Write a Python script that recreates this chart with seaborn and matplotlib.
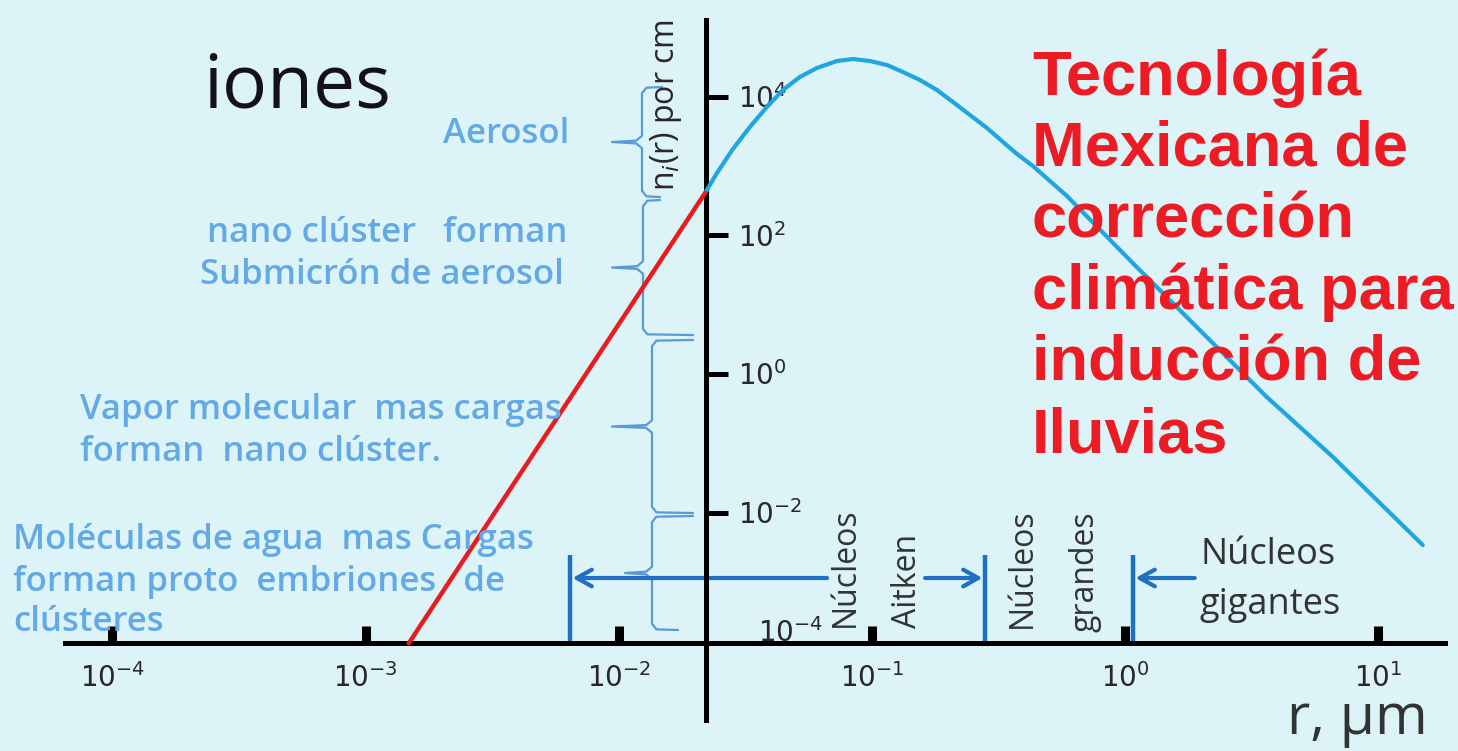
import numpy as np
import matplotlib
matplotlib.use("Agg")
import matplotlib.pyplot as plt
import matplotlib.transforms as mtransforms
from matplotlib.ticker import NullLocator
import seaborn as sns

# ---- data: size distribution n_i(r) (per cm^3) versus radius r (µm) ----
ion_radius = [0.00148, 0.0219]
ion_conc = [1.3e-4, 409]

aerosol_radius = [0.0219, 0.0244, 0.0282, 0.0329, 0.0384, 0.0445, 0.0518, 0.0606,
                  0.0727, 0.0841, 0.0981, 0.1145, 0.1324, 0.1546, 0.1804, 0.2087,
                  0.2435, 0.2843, 0.3289, 0.3735, 0.4318, 0.5042, 0.5885,
                  1.07, 1.97, 3.62, 6.61, 14.96]
aerosol_conc = [409, 795, 1760, 3660, 7130, 12540, 19300, 26050,
                32870, 35090, 32870, 28770, 22800, 17470, 12540, 8410,
                5460, 3548, 2228, 1496, 1003, 609, 370,
                40, 4.3, 0.466, 0.0634, 0.0034]

x_ticks = [1e-4, 1e-3, 1e-2, 1e-1, 1e0, 1e1]
x_tick_labels = ["$10^{-4}$", "$10^{-3}$", "$10^{-2}$", "$10^{-1}$", "$10^{0}$", "$10^{1}$"]
y_ticks = [1e4, 1e2, 1e0, 1e-2]
y_tick_labels = ["$10^{4}$", "$10^{2}$", "$10^{0}$", "$10^{-2}$"]

# concentration ranges grouped by the braces (top, bottom)
brace_ranges = [(13840, 358), (324, 3.65), (3.1, 0.00986), (0.00893, 2.02e-4)]
# radius limits: Aitken / large / giant nuclei
size_bounds = [0.0064, 0.28, 1.07]
arrow_tails = [0.0664, 0.162, 1.88]

W, H = 1458, 751
BG = "#dcf3f7"
BLUE_TXT = "#62a9e6"
BRACE = "#5a9ad6"
BAR = "#1f6fc2"
DARK = "#2b2530"
GREY = "#333333"

sns.set_theme(style="white", rc={"axes.facecolor": BG, "figure.facecolor": BG})
plt.rcParams["font.family"] = ["Open Sans", "DejaVu Sans"]
plt.rcParams["mathtext.fontset"] = "dejavusans"

fig = plt.figure(figsize=(W / 100, H / 100), dpi=100)
ax = fig.add_axes([0, 0, 1, 1])
ax.set_facecolor(BG)
ax.set_xscale("log")
ax.set_yscale("log")
ax.set_xlim(10 ** -4.444, 10 ** 1.314)
ax.set_ylim(10 ** -5.440, 10 ** 5.397)


def fx(px):
    return px / W


def fy(py):
    return 1 - py / H


# curves
sns.lineplot(x=aerosol_radius, y=aerosol_conc, ax=ax, color="#1fa6e0", lw=3.0,
             estimator=None, sort=False, zorder=5)
sns.lineplot(x=ion_radius, y=ion_conc, ax=ax, color="#ea1a1f", lw=3.2,
             estimator=None, sort=False, zorder=6)

# axes crossing inside the plot
x_axis_level = 1.32e-4
y_axis_pos = 0.022
for side in ("top", "left"):
    ax.spines[side].set_visible(False)
ax.spines["bottom"].set_position(("data", x_axis_level))
ax.spines["right"].set_position(("data", y_axis_pos))
ax.spines["bottom"].set_bounds(10 ** -4.187, 10 ** 1.262)
ax.spines["right"].set_bounds(10 ** -4.99, 10 ** 5.11)
for side in ("bottom", "right"):
    ax.spines[side].set_color("black")
    ax.spines[side].set_linewidth(3.6)
    ax.spines[side].set_zorder(4)

ax.xaxis.set_ticks_position("bottom")
ax.set_xticks(x_ticks, x_tick_labels)
ax.xaxis.set_minor_locator(NullLocator())
ax.tick_params(axis="x", direction="in", length=12, width=6.5, pad=15,
               labelsize=20, labelcolor=DARK, color="black")

ax.yaxis.set_ticks_position("right")
ax.set_yticks(y_ticks, y_tick_labels)
ax.yaxis.set_minor_locator(NullLocator())
ax.tick_params(axis="y", direction="out", length=16, width=3.6, pad=7,
               labelsize=20, labelcolor=DARK, color="black")
ax.grid(False)
ax.set_xlabel("")
ax.set_ylabel("")

# lowest concentration label, partly under the x axis
fig.text(fx(758), fy(634), "$10^{-4}$", fontsize=20, color=DARK,
         ha="left", va="center", zorder=1)

# braces grouping the formation stages
blend = mtransforms.blended_transform_factory(ax.transAxes, ax.transData)
brace_geom = [  # spine x, top end x, bottom end x, tip x (pixels)
    (642, 662, 660, 612),
    (643, 660, 693, 612),
    (652, 693, 693, 612),
    (652, 693, 678, 625),
]
for (top, bot), (xs, xt, xb, xtip) in zip(brace_ranges, brace_geom):
    lt, lb = np.log10(top), np.log10(bot)
    lm = (lt + lb) / 2
    d = 0.09
    xs_, xt_, xb_, xtip_ = fx(xs), fx(xt), fx(xb), fx(xtip)
    px = [xt_, xs_ + 0.003, xs_, xs_, xs_ - 0.004, xtip_, xs_ - 0.004, xs_, xs_, xs_ + 0.003, xb_]
    py = [lt, lt - 0.01, lt - d, lm + d, lm + 0.02, lm, lm - 0.02, lm - d, lb + d, lb + 0.01, lb]
    ax.plot(px, [10 ** v for v in py], transform=blend, color=BRACE, lw=1.6,
            zorder=3, solid_capstyle="round", solid_joinstyle="round")

# particle-size limits and arrows
bar_top = 10 ** (-(555 - 374) / 69.3)
ax.vlines(size_bounds, x_axis_level, bar_top, colors=BAR, lw=3.2, zorder=3)
arrow_level = 10 ** (-(578 - 374) / 69.3)
for head, tail in zip(size_bounds, arrow_tails):
    ax.annotate("", xy=(head, arrow_level), xytext=(tail, arrow_level),
                arrowprops=dict(arrowstyle="->,head_length=0.9,head_width=0.5",
                                color=BAR, lw=3.0, shrinkA=0, shrinkB=2),
                zorder=3)

# text
fig.text(fx(203), fy(108), "iones", fontsize=54, color="#141218",
         ha="left", va="baseline")
fig.text(fx(666), fy(105), "n$_i$(r) por cm", fontsize=23, color=DARK,
         rotation=90, ha="center", va="center")

blue_lines = [
    (443, 134, "Aerosol"),
    (207, 233, "nano clúster   forman"),
    (200, 275, "Submicrón de aerosol"),
    (80, 410, "Vapor molecular  mas cargas"),
    (80, 452, "forman  nano clúster."),
    (13, 540, "Moléculas de agua  mas Cargas"),
    (13, 582, "forman proto  embriones   de"),
    (13, 622, "clústeres"),
]
for x, y, s in blue_lines:
    fig.text(fx(x), fy(y), s, fontsize=25, color=BLUE_TXT, fontweight="semibold",
             ha="left", va="center", zorder=2)

for x, y, s in [(845, 627, "Núcleos"), (908, 628, "Aitken"),
                (1022, 628, "Núcleos"), (1085, 632, "grandes")]:
    fig.text(fx(x), fy(y), s, fontsize=23, color=GREY, rotation=90,
             ha="center", va="bottom")
fig.text(fx(1200), fy(555), "Núcleos", fontsize=26, color=GREY, ha="left", va="center")
fig.text(fx(1200), fy(605), "gigantes", fontsize=26, color=GREY, ha="left", va="center")
fig.text(fx(1287), fy(734), "r, µm", fontsize=41, color=GREY, ha="left", va="baseline")

fig.text(fx(1032), fy(48),
         "Tecnología\nMexicana de\ncorrección\nclimática para\ninducción de\nIluvias",
         fontsize=45.5, fontweight="bold", family="Liberation Sans", color="#ed1c24",
         ha="left", va="top", linespacing=1.27)

fig.savefig("out.png", dpi=100, facecolor=BG)
